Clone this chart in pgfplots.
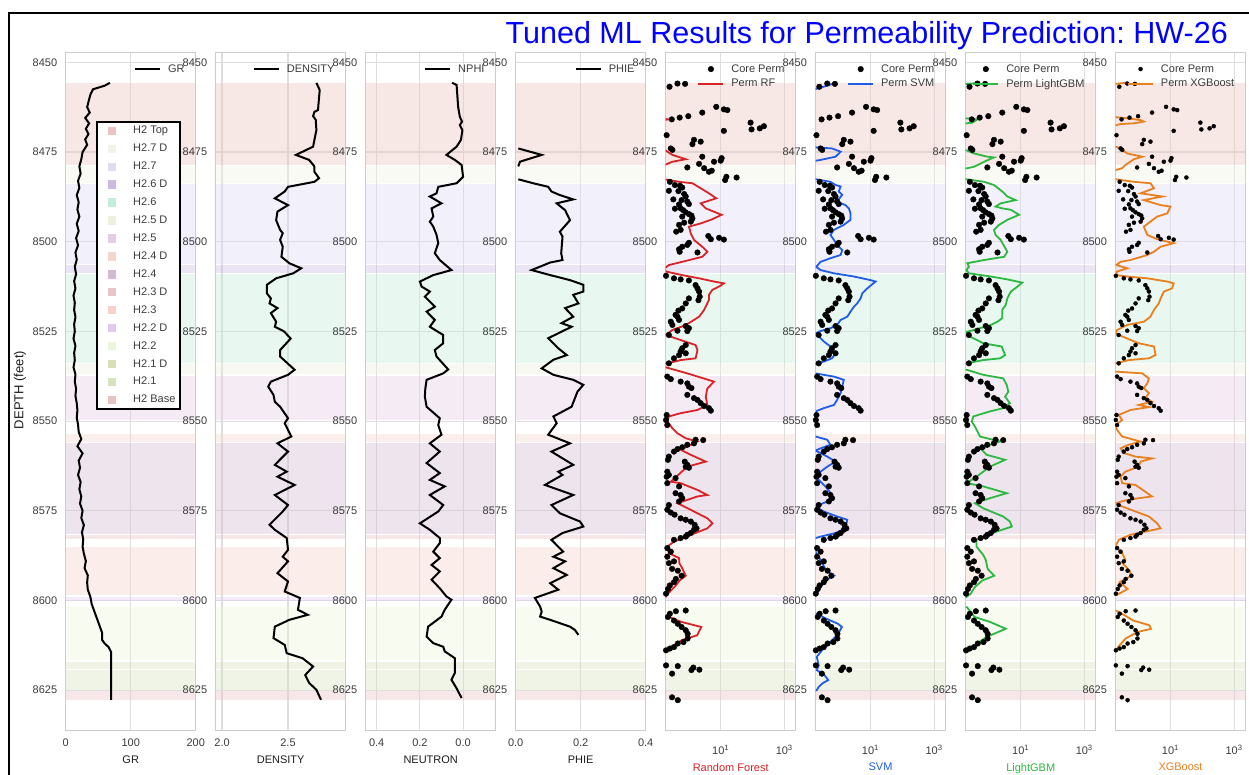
\documentclass[border=0pt]{standalone}
\usepackage{fontspec}
\setmainfont{Liberation Sans}
\usepackage{pgfplots}
\pgfplotsset{compat=1.18}
\usepackage{pgfplotstable}

\definecolor{gridc}{RGB}{222,222,222}
\definecolor{framec}{RGB}{204,204,204}
\definecolor{tickc}{RGB}{60,60,60}
\definecolor{labc}{RGB}{30,30,30}
\definecolor{rfc}{RGB}{218,35,40}
\definecolor{svmc}{RGB}{32,92,230}
\definecolor{lgbc}{RGB}{45,185,65}
\definecolor{xgbc}{RGB}{232,128,32}

\definecolor{zA}{RGB}{234,196,190}
\definecolor{zB}{RGB}{242,242,230}
\definecolor{zC}{RGB}{222,218,242}
\definecolor{zD}{RGB}{205,185,230}
\definecolor{zE}{RGB}{196,236,218}
\definecolor{zF}{RGB}{236,240,220}
\definecolor{zG}{RGB}{228,205,228}
\definecolor{zH}{RGB}{246,214,204}
\definecolor{zI}{RGB}{212,186,208}
\definecolor{zJ}{RGB}{232,196,198}
\definecolor{zK}{RGB}{246,210,200}
\definecolor{zL}{RGB}{226,200,244}
\definecolor{zM}{RGB}{234,246,218}
\definecolor{zN}{RGB}{218,222,182}
\definecolor{zO}{RGB}{214,228,190}
\definecolor{zP}{RGB}{234,194,196}

% ---------------- data ----------------
\pgfplotstableread{
d v
8455.7 68
8456.5 60
8457.5 42
8459 38
8461 35
8462.5 33
8464 37
8465.5 30
8467 36
8468.5 31
8470 35
8471.5 30
8473 33
8475 26
8477 24
8479 21
8481 23
8483 19
8485 21
8487 17
8489 20
8491 18
8493 21
8495 17
8497 20
8499 16
8501 19
8503 15
8505 17
8507 14
8509 16
8511 13
8513 15
8515 12
8517 14
8519 13
8521 15
8523 13
8525 14
8527 12
8529 15
8531 13
8533 14
8535 12
8537 15
8539 14
8541 16
8543 15
8545 17
8547 18
8549 17
8551 19
8553 20
8555 24
8557 18
8559 26
8561 20
8563 22
8565 19
8567 23
8569 21
8571 24
8573 22
8575 26
8577 24
8579 28
8581 25
8583 27
8585 26
8587 28
8589 31
8591 29
8593 34
8595 33
8597 34
8599 38
8601 40
8603 44
8605 48
8607 52
8609 56
8611 56
8612 60
8613 66
8614.4 70
8627.7 70
}\grdata

\pgfplotstableread{
d v
8455.7 2.715
8457.7 2.74
8463.3 2.727
8463.8 2.70
8465.0 2.69
8466.0 2.71
8468.9 2.715
8471.6 2.70
8473.5 2.69
8475.8 2.56
8477.2 2.66
8479.0 2.70
8480.5 2.70
8482.3 2.735
8483.3 2.70
8484.7 2.50
8486.0 2.475
8487.9 2.40
8489.8 2.50
8491.6 2.42
8494.0 2.41
8496.7 2.44
8497.6 2.46
8499.5 2.44
8501.4 2.46
8504.2 2.45
8506.0 2.51
8507.4 2.60
8508.8 2.54
8510.2 2.41
8512.0 2.34
8514.4 2.34
8515.8 2.37
8517.2 2.36
8518.5 2.42
8519.9 2.37
8522.3 2.41
8523.7 2.40
8525.0 2.47
8527.0 2.52
8530.2 2.44
8532.0 2.44
8535.7 2.55
8537.1 2.50
8539.0 2.37
8540.4 2.35
8542.7 2.39
8544.6 2.40
8546.0 2.44
8549.2 2.50
8550.6 2.475
8554.3 2.525
8556.2 2.42
8558.5 2.50
8562.2 2.40
8564.1 2.49
8565.5 2.42
8567.8 2.55
8570.6 2.40
8573.4 2.50
8575.2 2.46
8578.9 2.36
8580.3 2.40
8582.6 2.49
8585.9 2.50
8587.8 2.46
8589.1 2.50
8592.4 2.42
8594.7 2.50
8597.5 2.475
8599.3 2.59
8602.6 2.575
8604.0 2.65
8605.4 2.51
8607.3 2.40
8610.5 2.39
8612.4 2.475
8614.7 2.49
8616.1 2.61
8618.4 2.69
8620.8 2.63
8623.0 2.66
8624.9 2.715
8627.7 2.75
}\dendata

\pgfplotstableread{
d v
8455.7 0.051
8456.3 0.030
8462.4 0.023
8465.2 0.015
8466.5 0.005
8467.5 0.015
8468.9 0.003
8471.6 0.010
8473.5 0.030
8475.8 0.077
8477.2 0.038
8478.6 0.007
8481.9 0.000
8483.7 0.030
8484.7 0.115
8486.5 0.123
8487.4 0.154
8489.3 0.100
8490.7 0.146
8493.0 0.138
8494.4 0.154
8495.8 0.138
8498.1 0.123
8500.4 0.115
8503.2 0.131
8505.1 0.108
8507.9 0.054
8509.3 0.138
8511.1 0.200
8512.5 0.192
8513.9 0.154
8515.3 0.177
8518.1 0.131
8519.5 0.169
8521.8 0.131
8523.7 0.154
8526.0 0.092
8528.3 0.092
8530.2 0.131
8532.0 0.123
8535.6 0.069
8536.7 0.092
8538.5 0.169
8541.0 0.175
8543.2 0.177
8546.0 0.169
8549.2 0.108
8551.1 0.115
8553.8 0.100
8556.2 0.154
8558.5 0.108
8561.7 0.169
8564.5 0.108
8566.4 0.154
8568.2 0.085
8570.6 0.154
8573.4 0.092
8575.2 0.115
8578.5 0.200
8580.3 0.154
8582.6 0.108
8584.0 0.108
8586.4 0.138
8588.2 0.108
8590.1 0.146
8591.9 0.108
8594.2 0.146
8596.6 0.108
8598.9 0.077
8599.8 0.054
8602.6 0.085
8604.5 0.100
8607.3 0.162
8610.1 0.169
8611.9 0.138
8612.9 0.092
8614.2 0.085
8616.1 0.038
8620.2 0.038
8622.1 0.054
8624.4 0.031
8627.2 0.007
}\nphidata

\pgfplotstableread{
d v
8474.0 0.008
8475.8 0.080
8477.7 0.013
8479.0 0.008
}\phieA

\pgfplotstableread{
d v
8482.6 0.008
8483.7 0.054
8484.7 0.100
8486.0 0.110
8487.0 0.136
8488.2 0.177
8489.3 0.126
8491.2 0.152
8494.0 0.167
8497.2 0.136
8498.6 0.144
8503.2 0.140
8505.1 0.144
8505.8 0.106
8507.9 0.049
8509.3 0.106
8510.7 0.167
8512.0 0.208
8513.9 0.208
8514.8 0.177
8517.2 0.193
8518.5 0.152
8520.9 0.177
8522.7 0.141
8523.7 0.172
8526.9 0.100
8529.7 0.131
8531.6 0.157
8532.9 0.116
8535.3 0.080
8537.1 0.116
8538.5 0.177
8539.9 0.208
8541.8 0.190
8546.0 0.172
8548.7 0.116
8550.6 0.126
8553.8 0.100
8556.2 0.167
8558.5 0.110
8562.2 0.177
8564.1 0.131
8565.0 0.144
8567.8 0.090
8570.6 0.177
8573.4 0.110
8575.7 0.136
8578.0 0.198
8579.4 0.208
8581.2 0.144
8583.1 0.110
8586.4 0.146
8587.8 0.116
8589.1 0.152
8591.0 0.116
8592.9 0.157
8595.2 0.106
8597.0 0.131
8599.3 0.059
8601.7 0.075
8603.1 0.080
8604.5 0.075
8605.4 0.106
8607.3 0.167
8608.2 0.182
8609.6 0.193
}\phieB

% core permeability, v = log10(k, mD)
\pgfplotstableread{
d v
8455.9 -0.36
8456.0 -0.12
8456.8 -0.61
8462.4 0.86
8463.1 1.10
8463.3 1.21
8464.0 0.42
8465.0 -0.02
8465.4 -0.29
8465.9 -0.54
8466.8 1.94
8467.8 2.36
8468.4 2.23
8468.7 1.97
8469.1 1.10
8470.3 -0.70
8471.6 0.16
8472.1 0.37
8472.8 0.11
8474.0 -0.57
8474.4 -0.52
8476.3 0.42
8476.7 1.03
8477.4 1.00
8477.7 0.79
8478.3 0.32
8479.3 -0.05
8479.5 0.48
8480.2 0.72
8480.5 0.63
8481.9 1.18
8482.1 1.50
8482.8 1.14
8483.3 -0.60
8484.2 -0.44
8484.4 -0.28
8484.9 -0.21
8485.8 -0.63
8485.9 -0.33
8486.7 -0.15
8487.4 -0.10
8488.2 -0.49
8488.4 -0.23
8488.8 -0.05
8489.5 0.00
8489.6 -0.31
8490.7 -0.26
8490.8 -0.44
8491.2 -0.18
8491.8 -0.10
8492.3 0.00
8492.7 0.08
8493.0 -0.21
8493.5 0.11
8494.4 0.06
8494.7 -0.15
8495.3 -0.31
8496.7 -0.26
8497.2 -0.40
8498.4 0.61
8498.9 0.95
8499.3 0.69
8499.4 1.10
8500.3 0.00
8500.9 -0.05
8501.4 -0.21
8502.1 -0.31
8502.8 -0.29
8503.0 0.27
8509.5 -0.72
8510.2 -0.47
8510.5 -0.26
8510.8 0.00
8512.1 0.21
8513.0 0.27
8513.9 0.32
8515.3 0.34
8515.8 0.00
8516.3 0.30
8517.2 -0.10
8518.6 -0.21
8519.2 -0.33
8520.4 -0.42
8520.9 -0.36
8521.8 -0.31
8522.3 -0.57
8523.2 -0.52
8523.5 -0.10
8524.1 0.00
8524.8 -0.36
8524.9 -0.05
8526.0 -0.63
8528.8 -0.10
8529.7 -0.21
8530.6 -0.26
8531.1 -0.10
8531.6 -0.31
8532.5 -0.47
8533.9 -0.63
8537.6 -0.68
8538.3 -0.57
8539.0 -0.26
8539.5 -0.05
8540.4 0.00
8540.8 0.08
8542.7 -0.05
8543.6 0.16
8544.1 0.27
8545.0 0.37
8545.8 0.48
8546.4 0.63
8547.1 0.69
8548.3 -0.70
8549.7 -0.72
8551.1 -0.68
8555.2 0.21
8555.3 0.45
8556.2 0.16
8556.6 -0.05
8557.3 -0.21
8557.8 -0.36
8558.5 -0.47
8559.9 -0.63
8560.8 -0.66
8561.3 -0.13
8562.2 -0.05
8562.7 -0.10
8563.0 0.00
8564.1 -0.68
8565.0 -0.63
8565.5 -0.70
8565.9 -0.42
8567.3 -0.68
8568.2 -0.31
8570.1 -0.42
8570.6 -0.26
8571.5 -0.21
8572.4 -0.31
8573.4 -0.63
8574.7 -0.68
8575.5 -0.57
8576.1 -0.45
8577.1 -0.26
8577.5 -0.10
8578.0 0.06
8578.9 0.18
8579.9 0.24
8580.3 0.16
8581.2 0.06
8581.7 -0.05
8582.2 -0.10
8582.6 -0.26
8583.1 -0.47
8585.4 -0.68
8586.4 -0.57
8587.8 -0.68
8589.1 -0.47
8589.6 -0.63
8591.2 -0.53
8591.7 -0.35
8593.1 -0.23
8594.0 -0.41
8594.9 -0.47
8595.8 -0.60
8596.8 -0.66
8598.1 -0.72
8602.8 -0.10
8603.0 -0.41
8603.7 -0.60
8604.6 -0.66
8605.6 -0.47
8606.5 -0.35
8607.4 -0.23
8608.3 -0.10
8609.3 -0.04
8610.6 -0.04
8611.6 -0.17
8612.0 -0.35
8613.0 -0.47
8613.4 -0.60
8613.9 -0.72
8618.1 -0.72
8618.3 -0.35
8618.7 0.14
8619.3 0.33
8619.4 0.08
8620.4 -0.53
8627.0 -0.53
8627.8 -0.35
}\core

\pgfplotstableread{
d v
8455.7 -1.3
8465.0 -1.3
8465.9 -0.65
8466.8 -1.3
8473.8 -1.3
8474.4 -0.76
8475.8 -0.52
8477.0 -0.10
8477.7 -0.52
8478.6 -0.76
8479.5 -1.3
8482.0 -1.3
8482.6 -0.76
8483.3 -0.31
8483.7 0.11
8485.1 0.37
8486.5 0.63
8487.9 0.86
8489.3 0.37
8490.7 0.53
8492.5 1.03
8493.9 0.69
8494.9 0.37
8495.8 0.00
8497.7 0.06
8499.5 0.16
8501.4 0.42
8502.8 0.58
8504.2 0.42
8505.6 -0.21
8506.5 -0.63
8507.4 -0.76
8508.3 -0.73
8509.3 -0.21
8510.2 0.32
8511.1 0.79
8511.6 1.10
8512.5 0.95
8513.4 0.74
8514.8 0.63
8516.2 0.63
8518.1 0.53
8519.0 0.48
8520.9 0.32
8521.8 0.16
8522.7 0.00
8523.6 -0.21
8524.6 -0.52
8526.0 -0.73
8527.4 -0.26
8528.8 0.21
8530.2 0.27
8532.5 0.21
8533.0 -0.26
8533.9 -0.68
8534.5 -1.3
8535.0 -0.73
8536.7 -0.05
8539.0 0.79
8540.9 0.58
8543.2 0.53
8545.5 0.58
8546.9 0.27
8547.8 -0.26
8548.7 -0.63
8550.1 -0.68
8552.0 -0.52
8553.4 -0.36
8554.8 -0.10
8555.7 0.27
8557.1 -0.05
8558.0 -0.26
8559.4 0.06
8561.3 0.53
8562.7 -0.05
8566.9 -0.57
8567.3 -0.26
8569.2 0.27
8570.6 0.58
8571.0 0.27
8572.9 -0.36
8573.8 -0.15
8577.1 0.58
8578.5 0.74
8579.9 0.58
8581.7 0.06
8583.6 -0.47
8585.0 -0.68
8586.8 -0.63
8588.2 -0.31
8589.6 -0.30
8590.7 -0.23
8593.1 -0.10
8594.4 -0.29
8595.8 -0.41
8598.1 -0.66
8599.1 -0.74
8600.0 -1.3
8603.5 -1.3
8604.2 -0.74
8606.0 -0.23
8607.4 0.39
8609.7 0.26
8611.1 -0.23
8613.9 -0.72
8615.0 -1.3
8627.7 -1.3
}\rfdata

\pgfplotstableread{
d v
8455.7 -0.10
8456.5 -0.36
8457.4 -0.71
8458.0 -1.3
8473.0 -1.3
8473.7 -0.71
8474.0 -0.21
8474.9 0.06
8476.3 -0.10
8477.2 -0.57
8477.4 -0.71
8478.0 -1.3
8482.0 -1.3
8482.6 -0.71
8483.3 -0.26
8484.2 -0.10
8484.6 0.06
8486.0 0.00
8486.9 0.11
8488.8 -0.05
8489.8 0.21
8490.7 0.32
8492.1 0.37
8493.9 0.37
8495.3 0.16
8496.7 -0.15
8498.1 -0.26
8499.5 -0.15
8500.9 -0.05
8502.3 0.11
8503.7 0.06
8504.6 -0.26
8505.6 -0.57
8507.0 -0.71
8507.9 -0.57
8508.8 -0.15
8509.7 0.48
8510.7 1.00
8511.1 1.16
8513.0 0.90
8514.4 0.74
8515.8 0.69
8517.2 0.58
8518.1 0.48
8519.5 0.37
8520.9 0.27
8521.8 0.06
8523.2 -0.05
8524.1 -0.26
8525.0 -0.60
8525.5 -0.71
8526.4 -0.63
8527.8 -0.47
8529.2 -0.26
8531.1 -0.10
8532.5 -0.21
8533.4 -0.47
8534.1 -0.73
8535.0 -1.3
8536.2 -1.3
8536.7 -0.73
8537.6 -0.15
8538.5 0.16
8540.4 0.11
8542.2 0.06
8544.1 -0.05
8545.5 -0.15
8546.4 -0.47
8547.3 -0.73
8548.0 -1.3
8553.6 -1.3
8554.3 -0.73
8555.2 -0.36
8556.6 -0.26
8557.6 -0.57
8558.2 -0.73
8559.9 -0.36
8561.3 -0.10
8562.7 -0.36
8564.1 -0.57
8565.5 -0.73
8568.2 -0.42
8570.6 -0.21
8572.4 -0.36
8573.8 -0.73
8575.2 -0.47
8576.6 -0.05
8577.5 0.27
8579.9 0.21
8581.2 -0.10
8582.2 -0.57
8582.6 -0.73
8583.5 -1.3
8584.5 -1.3
8585.0 -0.68
8586.4 -0.73
8588.7 -0.57
8589.8 -0.51
8591.7 -0.39
8593.1 -0.14
8594.0 -0.33
8595.4 -0.51
8597.2 -0.63
8598.1 -0.69
8599.0 -1.3
8603.0 -1.3
8603.7 -0.69
8605.1 -0.39
8606.5 -0.02
8607.4 0.10
8609.3 -0.02
8611.6 -0.26
8613.0 -0.45
8614.4 -0.57
8615.7 -0.69
8618.1 -0.63
8619.4 -0.69
8620.8 -0.45
8622.2 -0.33
8623.1 -0.51
8624.1 -0.63
8625.0 -0.69
8625.8 -0.9
}\svmdata

\pgfplotstableread{
d v
8455.7 -0.30
8456.5 -1.3
8465.0 -1.3
8465.6 -0.71
8465.9 -0.36
8466.8 -0.52
8467.0 -0.71
8467.5 -1.3
8474.0 -1.3
8474.5 -0.71
8475.4 -0.47
8476.3 -0.05
8476.5 0.16
8477.7 -0.15
8479.1 -0.47
8479.5 -0.68
8480.2 -1.3
8482.0 -1.3
8482.6 -0.71
8483.3 -0.15
8484.2 0.16
8486.0 0.42
8487.4 0.58
8488.4 0.84
8489.3 0.37
8490.2 0.21
8490.7 0.42
8491.1 0.69
8492.5 0.95
8493.9 0.58
8495.3 0.32
8496.7 0.16
8498.1 0.21
8499.5 0.37
8502.8 0.58
8504.2 0.48
8505.1 -0.15
8506.0 -0.68
8507.0 -0.63
8507.9 -0.71
8508.8 -0.63
8509.7 0.06
8510.5 0.58
8511.4 1.05
8512.5 0.90
8513.9 0.69
8515.8 0.58
8517.6 0.53
8519.0 0.42
8521.3 0.42
8522.3 0.27
8523.2 0.06
8524.6 -0.47
8525.1 -0.70
8526.4 -0.60
8528.3 -0.18
8529.2 0.40
8531.6 0.51
8532.5 0.35
8533.0 -0.18
8533.9 -0.70
8534.6 -1.3
8535.2 -1.3
8535.7 -0.70
8537.1 -0.18
8538.1 0.45
8539.9 0.56
8541.8 0.61
8543.2 0.51
8545.0 0.66
8546.4 0.45
8547.3 0.03
8548.7 -0.49
8550.1 -0.54
8551.5 -0.44
8554.3 -0.28
8555.7 0.35
8556.6 0.03
8558.0 -0.23
8559.4 -0.07
8560.8 0.51
8562.7 0.03
8565.5 -0.39
8567.3 -0.70
8568.2 -0.18
8570.1 0.56
8571.5 0.03
8572.9 -0.44
8574.3 -0.18
8576.6 0.45
8578.0 0.66
8579.4 0.72
8580.8 0.24
8582.2 -0.18
8583.1 -0.39
8585.0 -0.39
8587.3 -0.18
8588.7 -0.10
8591.2 -0.04
8593.1 0.17
8594.4 -0.20
8596.3 -0.45
8598.1 -0.57
8599.1 -0.72
8600.0 -1.3
8601.2 -1.3
8601.9 -0.69
8604.6 -0.45
8606.0 0.04
8607.9 0.53
8608.8 0.29
8610.2 -0.08
8612.5 -0.45
8614.4 -0.69
8615.0 -1.3
8627.7 -1.3
}\lgbdata

\pgfplotstableread{
d v
8455.7 -0.40
8456.5 -1.3
8464.8 -1.3
8465.3 -0.71
8465.6 -0.36
8466.1 0.06
8466.5 0.16
8467.0 -0.15
8467.2 -0.57
8467.5 -0.71
8468.0 -1.3
8473.0 -1.3
8473.5 -0.71
8474.4 -0.52
8475.4 -0.36
8476.3 0.11
8477.0 -0.15
8478.6 -0.42
8479.5 -0.52
8480.0 -0.71
8480.5 -1.3
8482.0 -1.3
8482.6 -0.71
8483.3 -0.15
8483.7 0.37
8485.1 0.48
8486.5 0.06
8487.4 0.74
8488.4 0.16
8489.8 0.69
8490.2 1.00
8492.1 0.90
8493.0 0.58
8494.4 0.37
8495.8 0.16
8498.1 0.27
8499.3 0.58
8500.4 1.10
8501.4 0.69
8502.8 0.48
8503.7 0.27
8505.1 -0.26
8505.6 -0.57
8506.5 -0.71
8507.4 -0.36
8508.3 -0.68
8509.3 -0.71
8509.7 -0.36
8510.2 0.27
8511.1 0.90
8511.6 1.10
8513.0 1.05
8513.9 0.79
8515.8 0.69
8517.2 0.63
8519.0 0.48
8520.9 0.37
8522.3 0.16
8523.2 -0.36
8524.6 -0.68
8525.5 -0.73
8526.4 -0.52
8528.3 0.00
8529.2 0.48
8531.6 0.53
8532.5 0.32
8533.0 -0.31
8533.9 -0.73
8534.6 -1.3
8535.6 -1.3
8536.2 -0.73
8536.7 0.11
8538.1 0.32
8539.5 0.27
8540.8 0.16
8542.2 0.32
8543.6 0.21
8544.6 0.42
8545.5 0.00
8546.1 0.32
8546.9 -0.26
8548.3 -0.63
8549.7 -0.52
8551.1 -0.73
8552.5 -0.68
8554.3 -0.52
8555.7 0.06
8556.6 -0.31
8557.6 -0.57
8558.9 -0.47
8559.9 -0.10
8560.4 0.42
8561.3 0.06
8562.7 0.00
8564.1 -0.42
8565.5 -0.57
8567.3 -0.52
8567.8 -0.10
8571.0 0.42
8571.5 0.00
8572.1 -0.42
8572.9 -0.73
8573.8 -0.52
8575.2 -0.10
8576.6 0.32
8578.5 0.58
8579.9 0.69
8580.8 0.21
8581.7 -0.26
8583.1 -0.63
8585.0 -0.73
8586.8 -0.52
8588.7 -0.42
8589.4 -0.53
8591.7 -0.29
8593.1 -0.23
8594.0 -0.41
8594.9 -0.60
8596.8 -0.35
8597.7 -0.53
8598.6 -0.72
8599.5 -1.3
8602.0 -1.3
8602.8 -0.72
8603.7 -0.53
8605.6 -0.17
8606.9 0.33
8607.9 0.39
8608.8 -0.04
8610.6 -0.41
8612.5 -0.60
8613.9 -0.72
8614.5 -1.3
8627.7 -1.3
}\xgbdata

% ---------------- styles ----------------
\pgfplotsset{
  legend image code/.code={\draw[mark repeat=2,mark phase=2,#1] plot coordinates {(0pt,0pt) (12.5pt,0pt) (25pt,0pt)};},
  track/.style={
    scale only axis, width=130pt, height=678pt, anchor=north west,
    y dir=reverse, ymin=8447.2, ymax=8636.2,
    ytick={8450,8475,8500,8525,8550,8575,8600,8625},
    yticklabels={8450,8475,8500,8525,8550,8575,8600,8625},
    minor tick num=0,
    grid=major,
    major grid style={draw=gridc, line width=1.1pt},
    axis line style={draw=framec, line width=1.4pt},
    major tick length=0pt,
    tick style={draw=none},
    tick label style={font=\fontsize{11}{13}\selectfont, text=tickc},
    yticklabel style={xshift=-5pt},
    xticklabel style={yshift=-5pt},
    xlabel style={font=\fontsize{11}{13}\selectfont, text=labc, yshift=-2pt},
    legend cell align=left,
    legend style={at={(1,1)}, anchor=north east, draw=none, fill=none,
      font=\fontsize{11}{13}\selectfont, text=tickc, inner sep=2pt,
      row sep=1.5pt, xshift=-7pt, yshift=-8pt,
      /tikz/every odd column/.append style={column sep=5pt}},
  },
  perm/.style={track, xmin=-0.73, xmax=3.36, xtick={1,3},
    xticklabels={10\textsuperscript{1},10\textsuperscript{3}},
    xticklabel style={yshift=-6pt}, xlabel style={yshift=0pt}},
}

\newcommand{\band}[4]{\fill[#2, fill opacity=0.38] ({rel axis cs:0,0}|-{axis cs:#1,#3}) rectangle ({rel axis cs:1,0}|-{axis cs:#1,#4});}
\newcommand{\zones}[1]{%
  \band{#1}{zA}{8455.7}{8478.7}%
  \band{#1}{zB}{8478.9}{8483.6}%
  \band{#1}{zC}{8483.8}{8506.3}%
  \band{#1}{zD}{8506.6}{8508.7}%
  \band{#1}{zE}{8508.9}{8533.8}%
  \band{#1}{zF}{8534.0}{8537.0}%
  \band{#1}{zG}{8537.3}{8549.6}%
  \band{#1}{zH}{8553.6}{8555.9}%
  \band{#1}{zI}{8556.2}{8581.6}%
  \band{#1}{zJ}{8581.8}{8583.0}%
  \band{#1}{zK}{8585.0}{8598.5}%
  \band{#1}{zL}{8599.0}{8600.2}%
  \band{#1}{zM}{8601.9}{8616.6}%
  \band{#1}{zN}{8617.2}{8619.0}%
  \band{#1}{zO}{8619.4}{8625.0}%
  \band{#1}{zP}{8625.3}{8627.8}%
}
\newcommand{\zl}[2]{\addlegendimage{legend image code/.code={\path[draw=none,fill=none] (0pt,-4.5pt) rectangle (32pt,4.5pt); \path[draw=none,fill=#1] (8.5pt,-4.2pt) rectangle (16.9pt,4.2pt);}}\addlegendentry{#2}}

\begin{document}
\frenchspacing
\begin{tikzpicture}
\path[use as bounding box] (0pt,0pt) rectangle (1249pt,-774pt);
\fill[white] (0pt,0pt) rectangle (1249pt,-774pt);
\draw[line width=2pt, black] (9pt,-780pt) -- (9pt,-13pt) -- (1260pt,-13pt);

\node[anchor=base east, text=blue, font=\fontsize{30.5}{36}\selectfont, inner sep=0pt] at (1228pt,-43pt) {Tuned ML Results for Permeability Prediction: HW-26};
\node[rotate=90, font=\fontsize{13}{15}\selectfont, text=labc] at (20pt,-390pt) {DEPTH (feet)};

% GR
\begin{axis}[track, at={(65.7pt,-52.3pt)}, xmin=0, xmax=200, xtick={0,100,200}, xticklabels={0,100,200}, xlabel={GR}]
\zones{100}
\addplot[black, line width=2pt] table[x=v,y=d] {\grdata};
\addlegendentry{GR}
\end{axis}
% zone legend
\begin{axis}[at={(65.7pt,-52.3pt)}, anchor=north west, scale only axis, width=130pt, height=678pt, hide axis, xmin=0, xmax=1, ymin=0, ymax=1,
  legend cell align=left,
  legend style={at={(0.2308,0.899)}, anchor=north west, draw=black, line width=2pt, fill=white,
   font=\fontsize{11}{13}\selectfont, text=tickc, row sep=4.75pt, inner sep=2.5pt}]
\zl{zA}{H2 Top}
\zl{zB}{H2.7 D}
\zl{zC}{H2.7}
\zl{zD}{H2.6 D}
\zl{zE}{H2.6}
\zl{zF}{H2.5 D}
\zl{zG}{H2.5}
\zl{zH}{H2.4 D}
\zl{zI}{H2.4}
\zl{zJ}{H2.3 D}
\zl{zK}{H2.3}
\zl{zL}{H2.2 D}
\zl{zM}{H2.2}
\zl{zN}{H2.1 D}
\zl{zO}{H2.1}
\zl{zP}{H2 Base}
\end{axis}

% DENSITY
\begin{axis}[track, at={(215.7pt,-52.3pt)}, xmin=1.952, xmax=2.937, xtick={2.0,2.5}, xticklabels={2.0,2.5}, xlabel={DENSITY}]
\zones{2.5}
\addplot[black, line width=2pt] table[x=v,y=d] {\dendata};
\addlegendentry{DENSITY}
\end{axis}

% NEUTRON
\begin{axis}[track, at={(365.7pt,-52.3pt)}, x dir=reverse, xmin=-0.151, xmax=0.451, xtick={0.4,0.2,0.0}, xticklabels={0.4,0.2,0.0}, xlabel={NEUTRON}]
\zones{0.2}
\addplot[black, line width=2pt] table[x=v,y=d] {\nphidata};
\addlegendentry{NPHI}
\end{axis}

% PHIE
\begin{axis}[track, at={(515.7pt,-52.3pt)}, xmin=0, xmax=0.4, xtick={0,0.2,0.4}, xticklabels={0.0,0.2,0.4}, xlabel={PHIE}]
\zones{0.2}
\addplot[black, line width=2pt] table[x=v,y=d] {\phieA};
\addlegendentry{PHIE}
\addplot[black, line width=2pt, forget plot] table[x=v,y=d] {\phieB};
\end{axis}

% RF
\begin{axis}[perm, at={(665.7pt,-52.3pt)}, xlabel={Random Forest}, xlabel style={text=rfc}]
\zones{1}
\addplot[only marks, mark=*, mark size=2.8pt, black] table[x=v,y=d] {\core};
\addlegendentry{Core Perm}
\addplot[rfc, line width=1.8pt] table[x=v,y=d] {\rfdata};
\addlegendentry{Perm RF}
\end{axis}

% SVM
\begin{axis}[perm, at={(815.5pt,-52.3pt)}, xlabel={SVM}, xlabel style={text=svmc}]
\zones{1}
\addplot[only marks, mark=*, mark size=2.8pt, black] table[x=v,y=d] {\core};
\addlegendentry{Core Perm}
\addplot[svmc, line width=1.8pt] table[x=v,y=d] {\svmdata};
\addlegendentry{Perm SVM}
\end{axis}

% LightGBM
\begin{axis}[perm, at={(965.7pt,-52.3pt)}, xlabel={LightGBM}, xlabel style={text=lgbc}]
\zones{1}
\addplot[only marks, mark=*, mark size=2.8pt, black] table[x=v,y=d] {\core};
\addlegendentry{Core Perm}
\addplot[lgbc, line width=1.8pt] table[x=v,y=d] {\lgbdata};
\addlegendentry{Perm LightGBM}
\end{axis}

% XGBoost
\begin{axis}[perm, at={(1115.5pt,-52.3pt)}, xlabel={XGBoost}, xlabel style={text=xgbc}]
\zones{1}
\addplot[only marks, mark=*, mark size=2pt, black] table[x=v,y=d] {\core};
\addlegendentry{Core Perm}
\addplot[xgbc, line width=1.8pt] table[x=v,y=d] {\xgbdata};
\addlegendentry{Perm XGBoost}
\end{axis}
\end{tikzpicture}
\end{document}
